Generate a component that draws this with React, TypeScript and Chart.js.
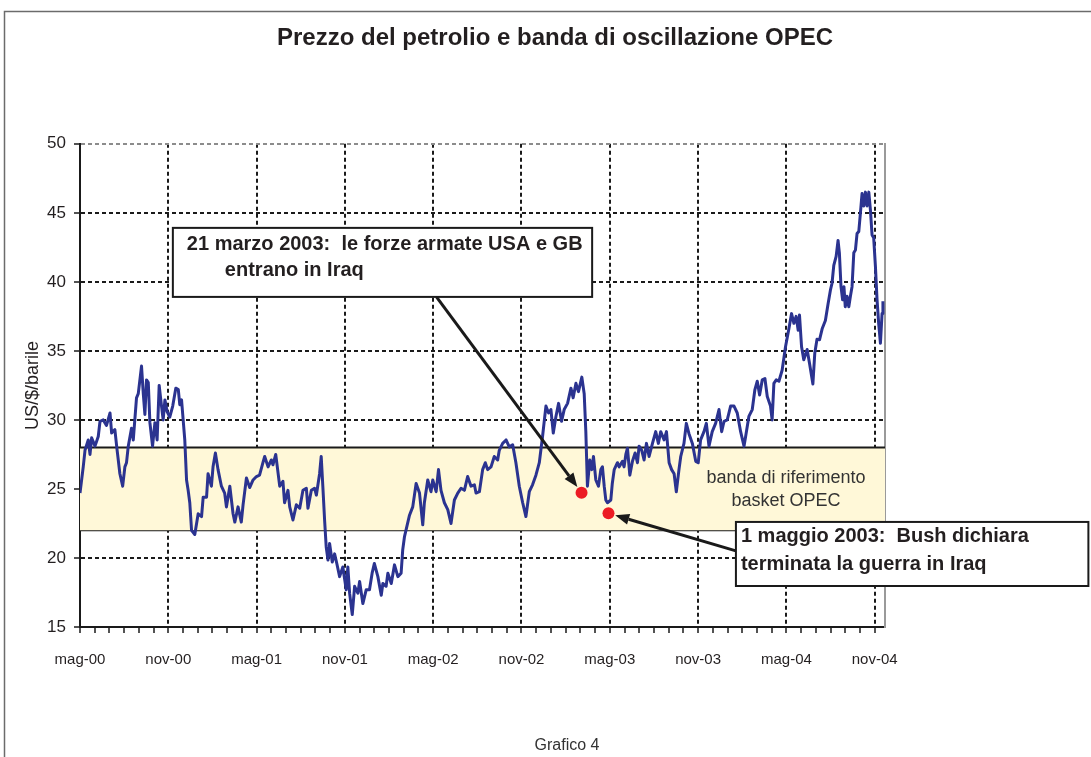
import React, { useEffect, useRef } from "react";
import { Chart, registerables } from "chart.js";

Chart.register(...registerables);

// ---- data ----
const chartTitle = "Prezzo del petrolio e banda di oscillazione OPEC";
const yAxisTitle = "US/$/barile";
const caption = "Grafico 4";
const xTickLabels = ["mag-00", "nov-00", "mag-01", "nov-01", "mag-02", "nov-02", "mag-03", "nov-03", "mag-04", "nov-04"];
const xMin = 0;
const xMax = 54.7;
const yMin = 15;
const yMax = 50;
const yStep = 5;

// months elapsed since May 2000
const priceMonths = [
  0, 0.22, 0.34, 0.56, 0.68, 0.79, 1.02, 1.24, 1.36, 1.58, 1.8, 2.04, 2.15, 2.37, 2.49, 2.71, 2.9, 3.05, 3.16, 3.28,
  3.5, 3.62, 3.84, 3.96, 4.18, 4.3, 4.41, 4.52, 4.64, 4.75, 4.93, 5.09, 5.24, 5.38, 5.54, 5.65, 5.77, 5.92, 6.1, 6.3,
  6.51, 6.68, 6.78, 6.9, 7.12, 7.24, 7.35, 7.46, 7.58, 7.8, 8.03, 8.26, 8.37, 8.6, 8.7, 8.93, 9.04, 9.2, 9.38, 9.61,
  9.83, 9.95, 10.18, 10.4, 10.52, 10.74, 10.96, 11.08, 11.31, 11.53, 11.76, 11.99, 12.2, 12.43, 12.55, 12.78, 13.0, 13.11, 13.3, 13.57,
  13.79, 13.9, 14.13, 14.25, 14.47, 14.7, 14.93, 15.15, 15.38, 15.49, 15.72, 15.94, 16.06, 16.28, 16.39, 16.5, 16.62, 16.73, 16.85, 16.96,
  17.14, 17.3, 17.45, 17.64, 17.86, 18.09, 18.2, 18.32, 18.5, 18.66, 18.88, 19.0, 19.22, 19.45, 19.67, 19.85, 20.0, 20.24, 20.47, 20.58,
  20.8, 20.92, 21.15, 21.37, 21.6, 21.82, 21.93, 22.05, 22.39, 22.61, 22.84, 23.07, 23.29, 23.4, 23.63, 23.85, 23.97, 24.2, 24.36, 24.53,
  24.76, 24.99, 25.21, 25.44, 25.67, 25.89, 26.12, 26.34, 26.57, 26.8, 26.91, 27.14, 27.36, 27.54, 27.7, 27.93, 28.15, 28.38, 28.49, 28.72,
  28.95, 29.17, 29.4, 29.62, 29.85, 30.08, 30.3, 30.53, 30.75, 30.98, 31.21, 31.43, 31.66, 31.84, 32.0, 32.16, 32.34, 32.52, 32.72, 32.9,
  33.13, 33.36, 33.51, 33.7, 33.87, 34.1, 34.26, 34.37, 34.48, 34.64, 34.78, 34.89, 35.05, 35.23, 35.39, 35.5, 35.62, 35.73, 35.84, 36.07,
  36.17, 36.3, 36.52, 36.64, 36.86, 36.97, 37.09, 37.2, 37.36, 37.54, 37.72, 37.88, 37.99, 38.17, 38.33, 38.49, 38.67, 38.9, 39.12, 39.3,
  39.46, 39.69, 39.85, 40.03, 40.2, 40.37, 40.52, 40.7, 40.82, 41.04, 41.2, 41.38, 41.61, 41.84, 42.01, 42.17, 42.4, 42.56, 42.74, 42.96,
  43.19, 43.42, 43.6, 43.76, 43.98, 44.21, 44.44, 44.66, 44.89, 45.12, 45.23, 45.45, 45.68, 45.86, 46.02, 46.18, 46.36, 46.54, 46.7, 46.92,
  47.03, 47.15, 47.31, 47.49, 47.71, 47.94, 48.17, 48.35, 48.51, 48.66, 48.8, 48.89, 49.03, 49.18, 49.41, 49.57, 49.8, 49.93, 50.08, 50.25,
  50.43, 50.65, 50.83, 50.99, 51.1, 51.22, 51.38, 51.51, 51.6, 51.71, 51.82, 51.91, 52.0, 52.12, 52.24, 52.35, 52.46, 52.58, 52.69, 52.8,
  52.92, 53.03, 53.14, 53.26, 53.37, 53.48, 53.6, 53.71, 53.82, 53.93, 54.05, 54.16, 54.27, 54.39, 54.5, 54.56,
];

const prices = [
  24.7, 26.6, 27.8, 28.55, 27.5, 28.7, 28.1, 28.8, 29.9, 30.0, 29.6, 30.5, 29.05, 29.3, 28.1, 26.1, 25.2, 26.6, 26.9, 28.1,
  29.4, 28.55, 31.6, 31.9, 33.9, 31.9, 30.4, 32.9, 32.7, 29.8, 28.1, 29.8, 28.55, 32.5, 31.0, 30.0, 31.45, 30.6, 30.2, 31.0,
  32.3, 32.2, 31.1, 31.45, 28.55, 25.65, 24.9, 24.0, 22.0, 21.7, 23.2, 23.0, 24.4, 24.4, 26.1, 25.2, 26.6, 27.6, 26.4, 25.2,
  24.7, 23.7, 25.2, 23.2, 22.6, 23.7, 22.6, 23.85, 25.8, 25.1, 25.65, 25.9, 26.0, 26.9, 27.35, 26.6, 27.1, 26.75, 27.5, 25.2,
  25.55, 24.0, 24.9, 23.7, 22.75, 23.85, 23.6, 24.9, 25.05, 23.6, 24.9, 25.05, 24.55, 26.1, 27.35, 25.2, 22.75, 20.8, 19.85, 21.05,
  19.7, 20.3, 19.6, 18.65, 19.35, 17.7, 19.35, 17.45, 15.9, 17.95, 17.45, 18.3, 16.7, 17.7, 17.7, 18.9, 19.6, 18.65, 17.3, 18.15,
  17.95, 18.9, 18.15, 19.5, 18.65, 18.9, 20.6, 21.55, 23.1, 23.7, 25.4, 24.7, 22.4, 24.0, 25.65, 24.8, 25.65, 24.8, 26.4, 24.9,
  24.0, 23.5, 22.5, 24.2, 24.7, 25.05, 24.9, 25.9, 25.2, 25.3, 24.7, 24.8, 26.4, 26.9, 26.4, 26.6, 27.35, 27.1, 27.8, 28.3,
  28.55, 28.05, 28.2, 26.9, 25.2, 24.0, 23.0, 24.8, 25.3, 26.0, 26.9, 28.8, 31.0, 30.5, 30.75, 29.05, 30.25, 31.2, 29.9, 30.75,
  31.2, 32.3, 31.6, 32.65, 32.05, 33.1, 31.9, 29.2, 25.2, 27.1, 26.4, 27.35, 25.65, 25.2, 26.4, 26.6, 25.2, 24.2, 24.0, 24.2,
  25.4, 26.4, 26.9, 26.6, 27.0, 26.6, 27.5, 27.95, 26.0, 27.0, 27.6, 26.9, 28.1, 27.8, 27.1, 28.3, 27.35, 28.3, 29.15, 28.3,
  29.15, 28.55, 29.15, 26.9, 26.4, 26.1, 24.8, 26.4, 27.35, 28.3, 29.75, 29.0, 28.3, 27.0, 26.9, 28.55, 29.15, 29.75, 28.1, 29.15,
  29.75, 30.75, 29.15, 29.9, 30.0, 31.0, 31.0, 30.5, 29.15, 28.1, 28.8, 30.25, 30.75, 32.2, 32.8, 31.8, 32.9, 33.0, 31.7, 31.0,
  30.0, 32.65, 32.9, 32.8, 33.6, 35.3, 36.6, 37.7, 37.0, 37.5, 36.5, 37.6, 35.3, 34.35, 35.1, 34.1, 32.6, 34.85, 35.85, 35.8,
  36.6, 37.2, 38.4, 39.4, 39.9, 41.2, 41.85, 43.0, 42.1, 39.65, 38.7, 39.65, 38.2, 38.95, 38.2, 38.95, 39.65, 42.1, 42.3, 43.5,
  43.65, 45.0, 46.4, 45.5, 46.5, 45.5, 46.5, 45.2, 43.4, 43.2, 41.1, 38.7, 37.0, 35.55, 37.7, 38.6,
];

// OPEC reference band
const bandLow = 22;
const bandHigh = 28;
const bandLabelLines = ["banda di riferimento", "basket OPEC"];
const bandLabelMonth = 47.97;
const bandLabelValues = [25.8, 24.1];

// highlighted events (red dots)
const eventMonths = [34.08, 35.91];
const eventPrices = [24.73, 23.24];

// callout boxes (data coordinates) pointing to the events
const noteLines = [
  ["21 marzo 2003:  le forze armate USA e GB", "entrano in Iraq"],
  ["1 maggio 2003:  Bush dichiara", "terminata la guerra in Iraq"],
];
const noteLeft = [6.31, 44.57];
const noteRight = [34.8, 68.52];
const noteTop = [43.91, 22.61];
const noteBottom = [38.91, 17.97];
const noteArrowFromMonth = [24.22, 44.57];
const noteArrowFromValue = [38.91, 20.51];

// ---- styles ----
const FONT = "'Liberation Sans', Arial, Helvetica, sans-serif";
const TEXT = "#231f20";
const LINE_BLUE = "#2b3390";
const DOT_RED = "#ec1c24";
const DOT_R = 6;
const noteTextDx = [
  [14, 52],
  [5, 5],
];
const noteTextDy = [
  [17, 43],
  [15, 43],
];

const decorPlugin = {
  id: "decor",
  beforeDraw(chart: any) {
    const { ctx, width, height } = chart;
    ctx.save();
    ctx.fillStyle = "#ffffff";
    ctx.fillRect(0, 0, width, height);
    ctx.strokeStyle = "#6b6b6b";
    ctx.lineWidth = 1.5;
    ctx.beginPath();
    ctx.moveTo(4.5, height);
    ctx.lineTo(4.5, 11.5);
    ctx.lineTo(width, 11.5);
    ctx.stroke();
    ctx.restore();
  },
  afterDatasetsDraw(chart: any) {
    const { ctx } = chart;
    const x = chart.scales.x;
    const y = chart.scales.y;
    ctx.save();
    // band label
    ctx.fillStyle = "#333333";
    ctx.font = `18px ${FONT}`;
    ctx.textAlign = "center";
    ctx.textBaseline = "middle";
    bandLabelLines.forEach((t, i) => {
      ctx.fillText(t, x.getPixelForValue(bandLabelMonth), y.getPixelForValue(bandLabelValues[i]));
    });

    noteLines.forEach((lines, i) => {
      const sx = x.getPixelForValue(noteArrowFromMonth[i]);
      const sy = y.getPixelForValue(noteArrowFromValue[i]);
      const ex = x.getPixelForValue(eventMonths[i]);
      const ey = y.getPixelForValue(eventPrices[i]);
      const dx = ex - sx;
      const dy = ey - sy;
      const len = Math.hypot(dx, dy);
      const ux = dx / len;
      const uy = dy / len;
      const tipX = ex - ux * (DOT_R + 1);
      const tipY = ey - uy * (DOT_R + 1);
      const headLen = 14;
      const headW = 5.5;
      const bx = tipX - ux * headLen;
      const by = tipY - uy * headLen;
      ctx.strokeStyle = "#1a1a1a";
      ctx.fillStyle = "#1a1a1a";
      ctx.lineWidth = 3;
      ctx.beginPath();
      ctx.moveTo(sx, sy);
      ctx.lineTo(bx, by);
      ctx.stroke();
      ctx.beginPath();
      ctx.moveTo(tipX, tipY);
      ctx.lineTo(bx - uy * headW, by + ux * headW);
      ctx.lineTo(bx + uy * headW, by - ux * headW);
      ctx.closePath();
      ctx.fill();

      const l = x.getPixelForValue(noteLeft[i]);
      const r = x.getPixelForValue(noteRight[i]);
      const t = y.getPixelForValue(noteTop[i]);
      const b = y.getPixelForValue(noteBottom[i]);
      ctx.fillStyle = "#ffffff";
      ctx.fillRect(l, t, r - l, b - t);
      ctx.strokeStyle = "#1a1a1a";
      ctx.lineWidth = 2;
      ctx.strokeRect(l, t, r - l, b - t);
      ctx.fillStyle = TEXT;
      ctx.font = `bold 20px ${FONT}`;
      ctx.textAlign = "left";
      ctx.textBaseline = "middle";
      lines.forEach((txt, k) => {
        ctx.fillText(txt, l + noteTextDx[i][k], t + noteTextDy[i][k]);
      });
    });

    // caption
    ctx.fillStyle = "#333333";
    ctx.font = `16px ${FONT}`;
    ctx.textAlign = "center";
    ctx.textBaseline = "middle";
    ctx.fillText(caption, 567, 746);
    ctx.restore();
  },
};

export default function App() {
  const canvasRef = useRef<HTMLCanvasElement | null>(null);

  useEffect(() => {
    document.body.style.margin = "0";
    const canvas = canvasRef.current;
    if (!canvas) return;

    const priceData = priceMonths.map((m, i) => ({ x: m, y: prices[i] }));
    const eventData = eventMonths.map((m, i) => ({ x: m, y: eventPrices[i] }));

    const chart = new Chart(canvas, {
      type: "line",
      data: {
        datasets: [
          {
            label: "Prezzo",
            data: priceData,
            borderColor: LINE_BLUE,
            borderWidth: 3,
            borderJoinStyle: "round",
            pointRadius: 0,
            tension: 0,
            fill: false,
            order: 0,
          },
          {
            label: "banda alta",
            data: [
              { x: xMin, y: bandHigh },
              { x: xMax, y: bandHigh },
            ],
            borderColor: "#1a1a1a",
            borderWidth: 2,
            backgroundColor: "#fff8d8",
            pointRadius: 0,
            fill: "+1",
            order: 2,
          },
          {
            label: "banda bassa",
            data: [
              { x: xMin, y: bandLow },
              { x: xMax, y: bandLow },
            ],
            borderColor: "#1a1a1a",
            borderWidth: 2,
            pointRadius: 0,
            fill: false,
            order: 2,
          },
          {
            label: "eventi",
            data: eventData,
            showLine: false,
            pointRadius: DOT_R,
            pointBackgroundColor: DOT_RED,
            pointBorderColor: DOT_RED,
            pointBorderWidth: 0,
            order: -1,
          },
        ],
      },
      options: {
        animation: false,
        responsive: false,
        devicePixelRatio: 1,
        layout: { padding: { left: 19, right: 0, top: 0, bottom: 0 } },
        plugins: {
          legend: { display: false },
          tooltip: { enabled: false },
          title: {
            display: true,
            text: chartTitle,
            color: TEXT,
            font: { family: FONT, size: 24, weight: "bold" },
            padding: { top: 24, bottom: 91 },
          },
        },
        scales: {
          x: {
            type: "linear",
            min: xMin,
            max: xMax,
            afterFit: (s: any) => {
              s.height = 130;
            },
            ticks: {
              stepSize: 1,
              autoSkip: false,
              includeBounds: false,
              maxRotation: 0,
              padding: 18,
              color: TEXT,
              font: { family: FONT, size: 15 },
              callback: (v: any) => (Number(v) % 6 === 0 ? xTickLabels[Number(v) / 6] : ""),
            },
            grid: {
              color: (c: any) =>
                c.tick && c.tick.value % 6 === 0 && c.tick.value > 0 ? "#1a1a1a" : "rgba(0,0,0,0)",
              lineWidth: 2,
              tickColor: "#1a1a1a",
              tickLength: 6,
              tickWidth: 1.5,
            },
            border: { display: true, color: "#1a1a1a", width: 2, dash: [4, 3] },
          },
          y: {
            type: "linear",
            position: "left",
            min: yMin,
            max: yMax,
            afterFit: (s: any) => {
              s.width = 61;
            },
            ticks: {
              stepSize: yStep,
              padding: 8,
              color: TEXT,
              font: { family: FONT, size: 17 },
            },
            title: {
              display: true,
              text: yAxisTitle,
              color: TEXT,
              font: { family: FONT, size: 18 },
              padding: { top: 3, bottom: 0 },
            },
            grid: {
              color: (c: any) => {
                const v = c.tick ? c.tick.value : 0;
                if (v === yMin) return "rgba(0,0,0,0)";
                if (v === yMax) return "#8c8c8c";
                return "#1a1a1a";
              },
              lineWidth: 2,
              tickColor: "#1a1a1a",
              tickLength: 6,
              tickWidth: 1.5,
            },
            border: { display: true, color: "#1a1a1a", width: 2, dash: [4, 3] },
          },
          y2: {
            type: "linear",
            position: "right",
            min: yMin,
            max: yMax,
            afterFit: (s: any) => {
              s.width = 206;
            },
            ticks: { display: false },
            grid: { display: false, drawTicks: false },
            border: { display: true, color: "#9a9a9a", width: 2 },
          },
        },
      },
      plugins: [decorPlugin],
    } as any);

    return () => chart.destroy();
  }, []);

  return (
    <div style={{ position: "absolute", left: 0, top: 0, width: 1091, height: 757 }}>
      <canvas ref={canvasRef} width={1091} height={757} style={{ width: 1091, height: 757, display: "block" }} />
    </div>
  );
}
